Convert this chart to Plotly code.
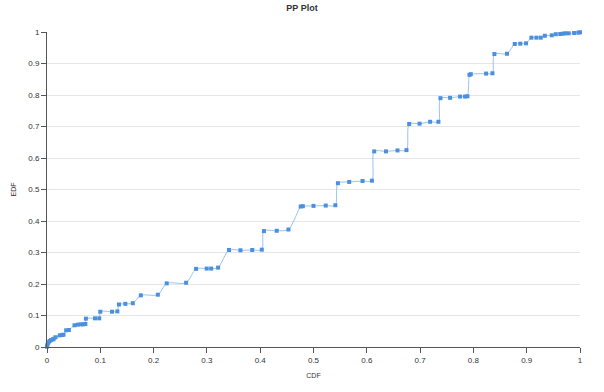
import plotly.graph_objects as go

cdf = [0, 0.0006, 0.0018, 0.003, 0.005, 0.0075, 0.011, 0.0125, 0.016, 0.024, 0.028, 0.031,
       0.036, 0.041, 0.0516, 0.058, 0.064, 0.068, 0.072, 0.073, 0.090, 0.098, 0.100, 0.122,
       0.132, 0.135, 0.147, 0.161, 0.176, 0.208, 0.2246, 0.261, 0.2797, 0.2996, 0.308, 0.321,
       0.3415, 0.363, 0.385, 0.403, 0.407, 0.431, 0.453, 0.476, 0.480, 0.500, 0.523, 0.541,
       0.5458, 0.567, 0.592, 0.6096, 0.6139, 0.636, 0.6576, 0.6744, 0.6795, 0.699, 0.7188,
       0.7344, 0.7382, 0.7563, 0.775, 0.7844, 0.7888, 0.7926, 0.7951, 0.8238, 0.8357, 0.8394,
       0.863, 0.8776, 0.888, 0.8988, 0.9088, 0.9182, 0.9264, 0.934, 0.947, 0.9545, 0.963,
       0.9676, 0.9725, 0.9788, 0.989, 0.9969, 1.0]

edf = [0.001, 0.006, 0.012, 0.015, 0.019, 0.022, 0.024, 0.026, 0.031, 0.037, 0.038, 0.039,
       0.053, 0.054, 0.069, 0.071, 0.072, 0.072, 0.073, 0.090, 0.091, 0.091, 0.112, 0.112,
       0.113, 0.135, 0.137, 0.139, 0.164, 0.166, 0.202, 0.204, 0.248, 0.249, 0.249, 0.252,
       0.308, 0.307, 0.308, 0.309, 0.368, 0.369, 0.373, 0.446, 0.447, 0.448, 0.449, 0.450,
       0.520, 0.524, 0.527, 0.528, 0.621, 0.621, 0.624, 0.625, 0.708, 0.709, 0.715,
       0.715, 0.790, 0.791, 0.795, 0.795, 0.796, 0.864, 0.866, 0.868, 0.869, 0.930,
       0.931, 0.962, 0.963, 0.964, 0.982, 0.982, 0.982, 0.988, 0.9895, 0.993, 0.9937,
       0.9947, 0.9958, 0.9958, 0.9968, 0.998, 0.999]

tick_vals = [0, 0.1, 0.2, 0.3, 0.4, 0.5, 0.6, 0.7, 0.8, 0.9, 1]
tick_text = ["0", "0.1", "0.2", "0.3", "0.4", "0.5", "0.6", "0.7", "0.8", "0.9", "1"]

fig = go.Figure()
fig.add_trace(go.Scatter(
    x=cdf, y=edf, mode="lines+markers",
    line=dict(color="#9ac2ec", width=1, shape="spline", smoothing=0.8),
    marker=dict(color="#4a8fe0", size=4, symbol="square"),
    cliponaxis=False, showlegend=False,
))

axis_common = dict(
    range=[0, 1], tickvals=tick_vals, ticktext=tick_text,
    ticks="outside", ticklen=5, tickcolor="#555", tickwidth=1,
    showline=True, linecolor="#555", linewidth=1,
    tickfont=dict(family="Liberation Sans, Arial", size=8, color="#333"),
    zeroline=False, fixedrange=True, automargin=False,
)

fig.update_layout(
    width=604, height=392,
    margin=dict(l=46.5, r=24, t=32, b=45),
    paper_bgcolor="white", plot_bgcolor="white",
    title=dict(text="<b>PP Plot</b>", x=0.5, xanchor="center",
               y=1 - 8 / 392, yanchor="middle", yref="container",
               font=dict(family="Liberation Sans, Arial", size=9, color="#333")),
    xaxis=dict(**axis_common, showgrid=False,
               title=dict(text="CDF", standoff=9,
                          font=dict(family="Liberation Sans, Arial", size=7, color="#333"))),
    yaxis=dict(**axis_common, showgrid=True, gridcolor="#e6e6e6", gridwidth=1,
               title=dict(text="EDF", standoff=10,
                          font=dict(family="Liberation Sans, Arial", size=7, color="#333"))),
)

fig.write_html("out.html")
